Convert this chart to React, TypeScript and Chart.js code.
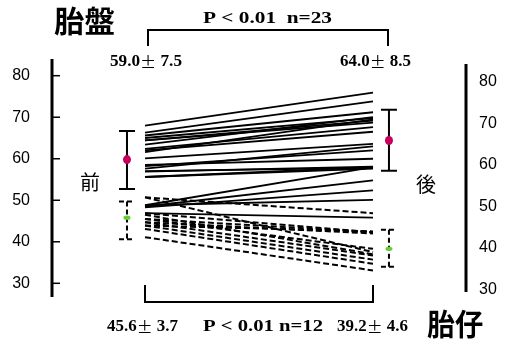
import React, { useEffect, useRef } from "react";
import { Chart, registerables } from "chart.js";

Chart.register(...registerables);

// Placenta (solid lines): before -> after
const placentaBefore = [68.0, 66.3, 65.6, 65.0, 64.4, 64.4, 63.4, 62.4, 61.6, 60.1, 58.2, 57.6, 56.9, 55.6, 55.6, 57.0, 48.8, 48.5, 48.3, 48.8, 46.9, 58.5, 62.0];
const placentaAfter = [75.9, 73.8, 71.2, 69.8, 69.2, 68.7, 70.0, 67.6, 69.5, 63.6, 62.0, 63.0, 58.1, 57.6, 58.0, 57.8, 58.0, 54.8, 52.4, 50.1, 45.8, 60.0, 66.5];
// Fetus (dashed lines): before -> after
const fetusBefore = [50.7, 50.7, 46.9, 45.5, 44.7, 43.9, 45.5, 44.7, 43.9, 43.1, 41.1, 46.5];
const fetusAfter = [46.9, 37.5, 42.3, 42.3, 42.0, 42.5, 38.3, 36.7, 35.7, 34.7, 33.1, 37.0];

// Error bars [before, after]
const placentaMean = [59.8, 64.4];
const placentaLow = [52.7, 57.1];
const placentaHigh = [66.7, 71.8];
const fetusMean = [45.8, 38.3];
const fetusLow = [40.6, 34.0];
const fetusHigh = [49.7, 42.9];
const errX = [-0.079, 1.07];

const yTicks = [30, 40, 50, 60, 70, 80];
const topTitle = "胎盤";
const bottomTitle = "胎仔";
const topStat = "P < 0.01  n=23";
const bottomStat = "P < 0.01 n=12";
const placentaLabels = [["59.0", "7.5"], ["64.0", "8.5"]];
const fetusLabels = [["45.6", "3.7"], ["39.2", "4.6"]];
const beforeLabel = "前";
const afterLabel = "後";

const SERIF = "'Liberation Serif', 'Times New Roman', serif";
const SANS = "'Liberation Sans', Arial, sans-serif";
const CJK = "'Noto Sans CJK JP', sans-serif";

// draw text stretched horizontally to a target width
function fitText(ctx: CanvasRenderingContext2D, text: string, x: number, y: number, w: number) {
  const m = ctx.measureText(text).width;
  ctx.save();
  ctx.translate(x, y);
  ctx.scale(w / m, 1);
  ctx.textAlign = "left";
  ctx.fillText(text, 0, 0);
  ctx.restore();
}

function drawPM(ctx: CanvasRenderingContext2D, x: number, y: number, a: string, b: string, w: number) {
  ctx.textBaseline = "middle";
  const sf = `bold 17px ${SERIF}`;
  const pf = `16px ${CJK}`;
  ctx.font = sf;
  const wa = ctx.measureText(a).width;
  const wb = ctx.measureText(" " + b).width;
  ctx.font = pf;
  const wp = ctx.measureText("±").width;
  const total = wa + wp + wb;
  const s = w / total;
  ctx.save();
  ctx.translate(x, y);
  ctx.scale(s, 1);
  ctx.textAlign = "left";
  ctx.font = sf;
  ctx.fillText(a, 0, 0);
  ctx.font = pf;
  ctx.fillText("±", wa, 0);
  ctx.font = sf;
  ctx.fillText(" " + b, wa + wp, 0);
  ctx.restore();
}

const overlay = {
  id: "overlay",
  afterDatasetsDraw(chart: any) {
    const ctx: CanvasRenderingContext2D = chart.ctx;
    const xs = chart.scales.x;
    const ys = chart.scales.y;
    ctx.save();
    ctx.fillStyle = "#000";
    ctx.strokeStyle = "#000";

    // Left axis
    ctx.lineWidth = 3;
    ctx.beginPath();
    ctx.moveTo(52, 59);
    ctx.lineTo(52, 297);
    ctx.stroke();
    ctx.lineWidth = 1.5;
    ctx.font = `16px ${SANS}`;
    ctx.textAlign = "right";
    ctx.textBaseline = "middle";
    yTicks.forEach((t) => {
      const py = ys.getPixelForValue(t);
      ctx.beginPath();
      ctx.moveTo(52, py);
      ctx.lineTo(60, py);
      ctx.stroke();
      ctx.fillText(String(t), 30, py);
    });

    // Right axis
    ctx.lineWidth = 3;
    ctx.beginPath();
    ctx.moveTo(466, 64);
    ctx.lineTo(466, 292);
    ctx.stroke();
    ctx.textAlign = "left";
    yTicks.forEach((t) => {
      const py = ys.getPixelForValue(t) + 6;
      ctx.fillText(String(t), 479, py);
    });

    // Error bars
    const drawErr = (xv: number, lo: number, hi: number, dashed: boolean) => {
      const px = xs.getPixelForValue(xv);
      const pl = ys.getPixelForValue(lo);
      const ph = ys.getPixelForValue(hi);
      ctx.lineWidth = 2;
      ctx.setLineDash(dashed ? [5, 3] : []);
      ctx.beginPath();
      ctx.moveTo(px, ph);
      ctx.lineTo(px, pl);
      ctx.moveTo(px - 8, ph);
      ctx.lineTo(px + 8, ph);
      ctx.moveTo(px - 8, pl);
      ctx.lineTo(px + 8, pl);
      ctx.stroke();
      ctx.setLineDash([]);
    };
    for (let i = 0; i < 2; i++) {
      drawErr(errX[i], placentaLow[i], placentaHigh[i], false);
      drawErr(errX[i], fetusLow[i], fetusHigh[i], true);
    }
    for (let i = 0; i < 2; i++) {
      const px = xs.getPixelForValue(errX[i]);
      ctx.fillStyle = "#c8005a";
      ctx.beginPath();
      ctx.ellipse(px, ys.getPixelForValue(placentaMean[i]), 4, 4.5, 0, 0, Math.PI * 2);
      ctx.fill();
      ctx.fillStyle = "#66cc33";
      ctx.beginPath();
      ctx.ellipse(px, ys.getPixelForValue(fetusMean[i]), 3.5, 2.2, 0, 0, Math.PI * 2);
      ctx.fill();
    }
    ctx.fillStyle = "#000";

    // Brackets
    const x0 = xs.getPixelForValue(0);
    const x1 = xs.getPixelForValue(1);
    ctx.lineWidth = 2;
    ctx.beginPath();
    ctx.moveTo(x0 + 3, 46);
    ctx.lineTo(x0 + 3, 30);
    ctx.lineTo(x1 + 15, 30);
    ctx.lineTo(x1 + 15, 46);
    ctx.stroke();
    ctx.beginPath();
    ctx.moveTo(x0, 285);
    ctx.lineTo(x0, 302);
    ctx.lineTo(x1, 302);
    ctx.lineTo(x1, 285);
    ctx.stroke();

    // Titles
    ctx.textBaseline = "middle";
    ctx.font = `bold 30px ${CJK}`;
    fitText(ctx, topTitle, 54, 21, 61);
    fitText(ctx, bottomTitle, 427, 324, 56);

    ctx.font = `bold 17px ${SERIF}`;
    fitText(ctx, topStat, 203, 19, 129);
    fitText(ctx, bottomStat, 203, 327, 120);

    drawPM(ctx, 110, 62, placentaLabels[0][0], placentaLabels[0][1], 72);
    drawPM(ctx, 340, 62, placentaLabels[1][0], placentaLabels[1][1], 71);
    drawPM(ctx, 107, 327, fetusLabels[0][0], fetusLabels[0][1], 71);
    drawPM(ctx, 337, 327, fetusLabels[1][0], fetusLabels[1][1], 71);

    ctx.font = `20px ${CJK}`;
    ctx.textAlign = "center";
    ctx.fillText(beforeLabel, 90, 182);
    ctx.fillText(afterLabel, 426, 184);

    ctx.restore();
  },
};

export default function App() {
  const ref = useRef<HTMLCanvasElement | null>(null);
  useEffect(() => {
    document.body.style.margin = "0";
    const datasets: any[] = [];
    placentaBefore.forEach((b, i) => {
      datasets.push({
        data: [{ x: 0, y: b }, { x: 1, y: placentaAfter[i] }],
        borderColor: "#000",
        borderWidth: 1.8,
        pointRadius: 0,
        clip: false,
      });
    });
    fetusBefore.forEach((b, i) => {
      datasets.push({
        data: [{ x: 0, y: b }, { x: 1, y: fetusAfter[i] }],
        borderColor: "#000",
        borderWidth: 2,
        borderDash: [6, 3],
        pointRadius: 0,
        clip: false,
      });
    });
    const chart = new Chart(ref.current!, {
      type: "line",
      data: { datasets },
      options: {
        animation: false,
        responsive: false,
        devicePixelRatio: 1,
        layout: { padding: { left: 99.4, right: 86.4, top: 75.7, bottom: 56.7 } },
        scales: {
          x: { type: "linear", min: -0.2, max: 1.2, display: false },
          y: { type: "linear", min: 30, max: 80, display: false },
        },
        plugins: { legend: { display: false }, tooltip: { enabled: false } },
      },
      plugins: [overlay],
    });
    return () => chart.destroy();
  }, []);
  return (
    <div style={{ position: "fixed", left: 0, top: 0, width: 505, height: 340, background: "#fff" }}>
      <canvas ref={ref} width={505} height={340} />
    </div>
  );
}
